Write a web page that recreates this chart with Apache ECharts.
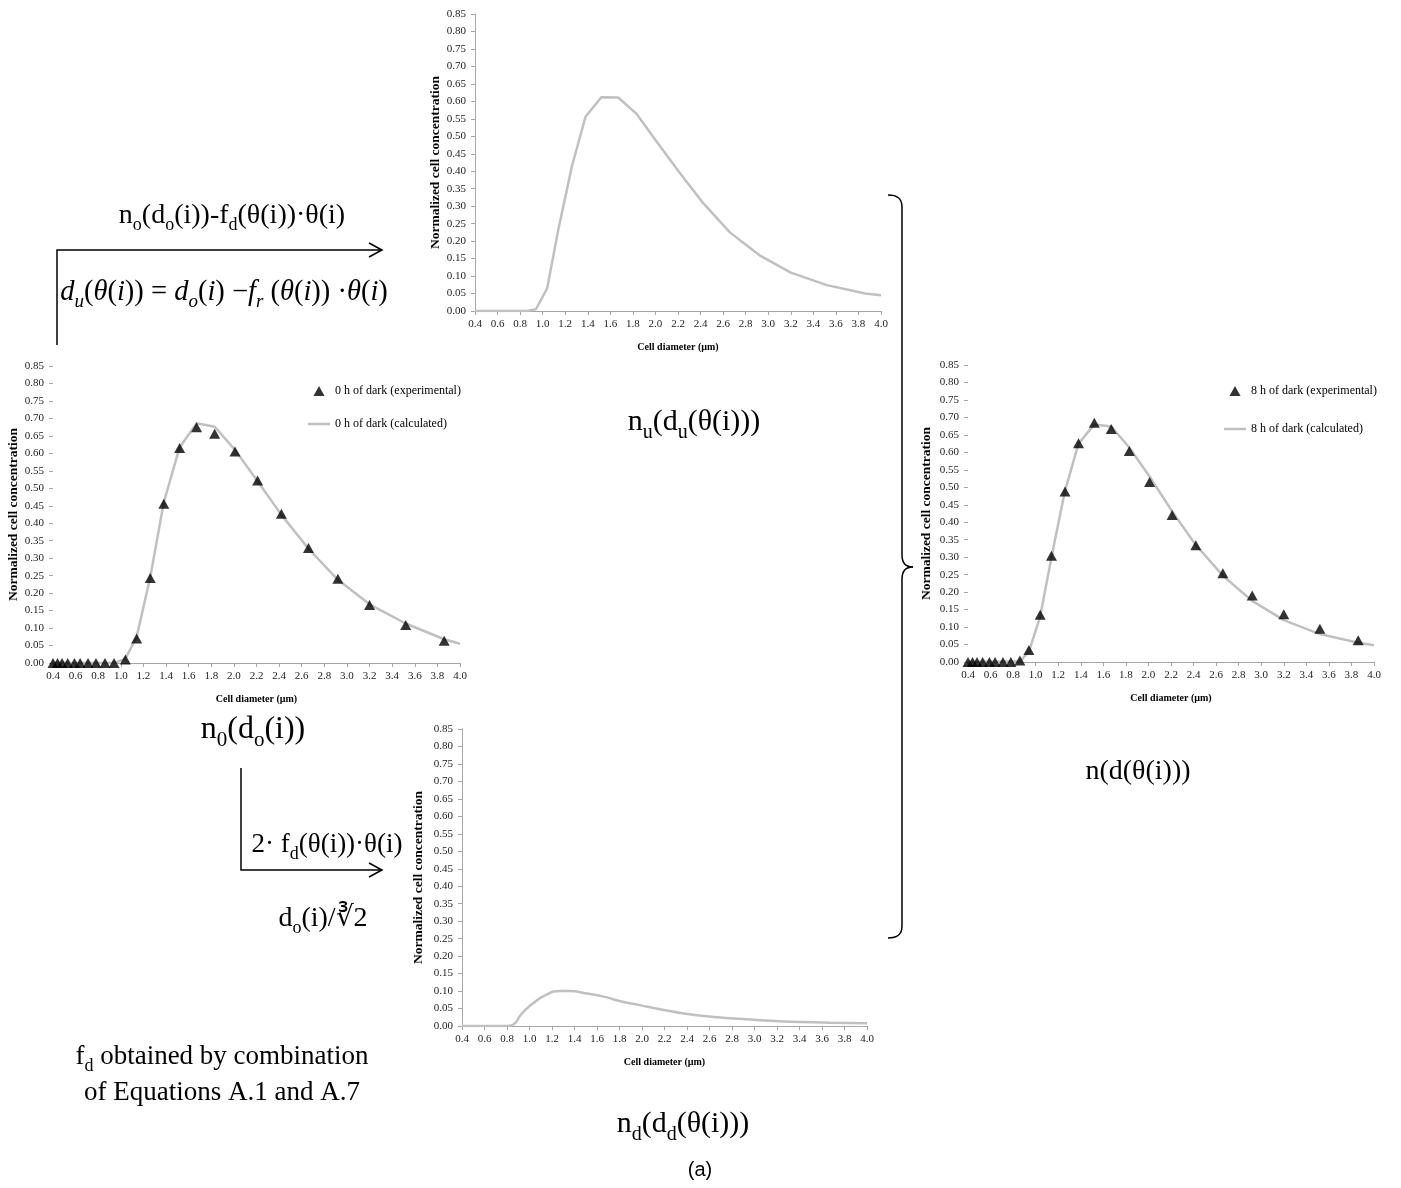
<!DOCTYPE html>
<html><head><meta charset="utf-8">
<script src="https://cdn.jsdelivr.net/npm/echarts@6/dist/echarts.min.js"></script>
<style>html,body{margin:0;padding:0;background:#fff}#c{width:1401px;height:1188px}</style>
</head><body><div id="c"></div>
<script>
// ---------- data ----------
const xExp  = [0.40,0.44,0.48,0.53,0.59,0.64,0.71,0.78,0.86,0.94,1.04,1.14,1.26,1.38,1.52,1.67,1.83,2.01,2.21,2.42,2.66,2.92,3.20,3.52,3.86];
const exp0  = [0,0,0,0,0,0,0,0,0,0,0.010,0.070,0.243,0.456,0.615,0.675,0.656,0.605,0.522,0.427,0.329,0.241,0.166,0.109,0.064];
const exp8  = [0,0,0,0,0,0,0,0,0.004,0.034,0.135,0.304,0.488,0.626,0.685,0.667,0.604,0.515,0.421,0.334,0.254,0.190,0.137,0.095,0.062];
const xCalc = [0.40,0.86,0.94,1.04,1.14,1.26,1.38,1.52,1.67,1.83,2.01,2.21,2.42,2.66,2.92,3.20,3.52,3.86,4.00];
const calc0 = [0,0,0,0.012,0.075,0.245,0.460,0.617,0.686,0.676,0.610,0.520,0.424,0.327,0.238,0.168,0.113,0.068,0.055];
const calc8 = [0,0.002,0.030,0.130,0.300,0.490,0.625,0.680,0.674,0.614,0.531,0.431,0.335,0.247,0.175,0.120,0.080,0.055,0.048];
const calcU = [0,0,0.005,0.065,0.235,0.415,0.556,0.612,0.611,0.565,0.485,0.398,0.310,0.225,0.160,0.110,0.074,0.050,0.045];
const xCalcD = [0.40,0.80,0.86,0.93,1.02,1.15,1.27,1.36,1.51,1.66,1.81,1.99,2.16,2.37,2.64,2.93,3.26,3.67,4.00];
const calcD  = [0,0,0.005,0.035,0.062,0.090,0.100,0.100,0.093,0.084,0.071,0.059,0.048,0.036,0.026,0.019,0.013,0.0095,0.0076];
const yMin = 0, yMax = 0.85, yStep = 0.05;
const xMin = 0.4, xMax = 4.0, xStep = 0.2;
const yName = 'Normalized cell concentration';
const xName = 'Cell diameter (\u00b5m)';
const sExp0 = '0 h of dark (experimental)', sCalc0 = '0 h of dark (calculated)';
const sExp8 = '8 h of dark (experimental)', sCalc8 = '8 h of dark (calculated)';

// ---------- helpers ----------
const SERIF = '"Liberation Serif","Times New Roman",serif';
const zip = (xs, ys) => xs.map((x, i) => [x, ys[i]]);
const AX = '#a6a6a6';
const grids = [
  {left:475, top:14,  width:406, height:297},
  {left:53,  top:366, width:407, height:297},
  {left:968, top:365, width:406, height:297},
  {left:462, top:729, width:405, height:297}
];
const yGaps = [31, 31, 34, 36];
const yLineShow = [true, false, false, true];
function yAx(i){return {type:'value',gridIndex:i,min:yMin,max:yMax,interval:yStep,name:yName,nameLocation:'middle',nameGap:yGaps[i],
  nameTextStyle:{fontFamily:SERIF,fontWeight:'bold',fontSize:13.5,color:'#000'},
  axisLine:{show:yLineShow[i],lineStyle:{color:AX,width:1}},axisTick:{show:true,length:4,lineStyle:{color:AX}},
  axisLabel:{fontFamily:SERIF,fontSize:11,color:'#222',margin:9,formatter:v=>v.toFixed(2)},splitLine:{show:false}};}
function xAx(i){return {type:'value',gridIndex:i,min:xMin,max:xMax,interval:xStep,name:xName,nameLocation:'middle',nameGap:31,
  nameTextStyle:{fontFamily:SERIF,fontWeight:'bold',fontSize:10,color:'#000'},
  axisLine:{show:true,onZero:false,lineStyle:{color:AX,width:1}},axisTick:{show:true,length:4,lineStyle:{color:AX}},
  axisLabel:{fontFamily:SERIF,fontSize:11,color:'#222',margin:8,formatter:v=>v.toFixed(1)},splitLine:{show:false}};}
const LINE = {color:'#c0c0c0',width:2.5};
function lineS(i,name,data,smooth){return {type:'line',name:name,xAxisIndex:i,yAxisIndex:i,data:data,symbol:'none',smooth:!!smooth,
  lineStyle:LINE,itemStyle:{color:'#c0c0c0'},z:2,animation:false};}
function scatS(i,name,data){return {type:'scatter',name:name,xAxisIndex:i,yAxisIndex:i,data:data,symbol:'triangle',symbolSize:[11,10],
  itemStyle:{color:'#000'},z:3,animation:false};}

function rich(sz){
  const sub = Math.round(sz*0.65);
  return {
    n:{fontFamily:SERIF,fontSize:sz,verticalAlign:'top',lineHeight:sz},
    s:{fontFamily:SERIF,fontSize:sub,verticalAlign:'bottom',lineHeight:Math.round(sz*1.17)},
    i:{fontFamily:SERIF,fontSize:sz,fontStyle:'italic',verticalAlign:'top',lineHeight:sz},
    is:{fontFamily:SERIF,fontSize:sub,fontStyle:'italic',verticalAlign:'bottom',lineHeight:Math.round(sz*1.17)}
  };
}
function T(x,y,text,sz,extra){return {type:'text',x:x,y:y,silent:true,style:Object.assign({text:text,fontFamily:SERIF,fontSize:sz,fill:'#000',
  align:'center',verticalAlign:'middle',rich:rich(sz)},extra||{})};}
function L(pts,w){return {type:'polyline',silent:true,shape:{points:pts},style:{stroke:'#000',lineWidth:w||1.5,fill:null}};}
function B(x1,y1,c1x,c1y,c2x,c2y,x2,y2){return {type:'bezierCurve',silent:true,shape:{x1:x1,y1:y1,cpx1:c1x,cpy1:c1y,cpx2:c2x,cpy2:c2y,x2:x2,y2:y2},
  style:{stroke:'#000',lineWidth:1.5,fill:null}};}

const graphics = [
  T(232,218,'{n|n}{s|o}{n|(d}{s|o}{n|(i))-f}{s|d}{n|(\u03b8(i))\u00b7\u03b8(i)}',28),
  L([[57,345],[57,250],[382,250]]),
  L([[369,243],[382,250],[369,257]]),
  T(224,295,'{i|d}{is|u}{n|(}{i|\u03b8}{n|(}{i|i}{n|)) = }{i|d}{is|o}{n|(}{i|i}{n|) \u2212}{i|f}{is|r}{n| (}{i|\u03b8}{n|(}{i|i}{n|)) \u00b7}{i|\u03b8}{n|(}{i|i}{n|)}',28.5),
  T(694,425,'{n|n}{s|u}{n|(d}{s|u}{n|(\u03b8(i)))}',30),
  T(253,732,'{n|n}{s|0}{n|(d}{s|o}{n|(i))}',32),
  L([[241,768],[241,870],[382,870]]),
  L([[369,863],[382,870],[369,877]]),
  T(327,847,'{n|2\u00b7 f}{s|d}{n|(\u03b8(i))\u00b7\u03b8(i)}',27),
  T(323,921,'{n|d}{s|o}{n|(i)/\u221b2}',28),
  T(222,1059,'{n|f}{s|d}{n| obtained by combination}',27),
  T(222,1093,'{n|of Equations A.1 and A.7}',27),
  T(683,1127,'{n|n}{s|d}{n|(d}{s|d}{n|(\u03b8(i)))}',30),
  T(700,1170,'(a)',20,{fontFamily:'"Liberation Sans",Arial,sans-serif'}),
  T(1138,772,'{n|n(d(\u03b8(i)))}',28),
  B(888,195,897,195,902,198,902,207),
  L([[902,207],[902,555]]),
  B(902,555,902,563,906,567,913,567),
  B(913,567,906,567,902,571,902,579),
  L([[902,579],[902,926]]),
  B(902,926,902,935,897,938,888,938)
];

const TRI = 'path://M5,0 L10,9 L0,9 Z';
const BAR = 'path://M0,0 L22,0 L22,2.5 L0,2.5 Z';
const legendText = {fontFamily:SERIF,fontSize:12,color:'#000'};

const chart = echarts.init(document.getElementById('c'), null, {renderer:'canvas', width:1401, height:1188});
chart.setOption({
  backgroundColor:'#fff',
  animation:false,
  grid: grids,
  xAxis: [0,1,2,3].map(xAx),
  yAxis: [0,1,2,3].map(yAx),
  legend: [
    {data:[{name:sExp0,icon:TRI},{name:sCalc0,icon:BAR}],orient:'vertical',left:308,top:385,padding:0,itemWidth:22,itemHeight:10,itemGap:21,
     selectedMode:false,symbolKeepAspect:true,textStyle:legendText},
    {data:[{name:sExp8,icon:TRI},{name:sCalc8,icon:BAR}],orient:'vertical',left:1224,top:385,padding:0,itemWidth:22,itemHeight:10,itemGap:26,
     selectedMode:false,symbolKeepAspect:true,textStyle:legendText}
  ],
  series: [
    lineS(0,'u',zip(xCalc,calcU)),
    lineS(1,sCalc0,zip(xCalc,calc0)),
    scatS(1,sExp0,zip(xExp,exp0)),
    lineS(2,sCalc8,zip(xCalc,calc8)),
    scatS(2,sExp8,zip(xExp,exp8)),
    lineS(3,'d',zip(xCalcD,calcD),true)
  ],
  graphic: {elements: graphics}
});
</script></body></html>
